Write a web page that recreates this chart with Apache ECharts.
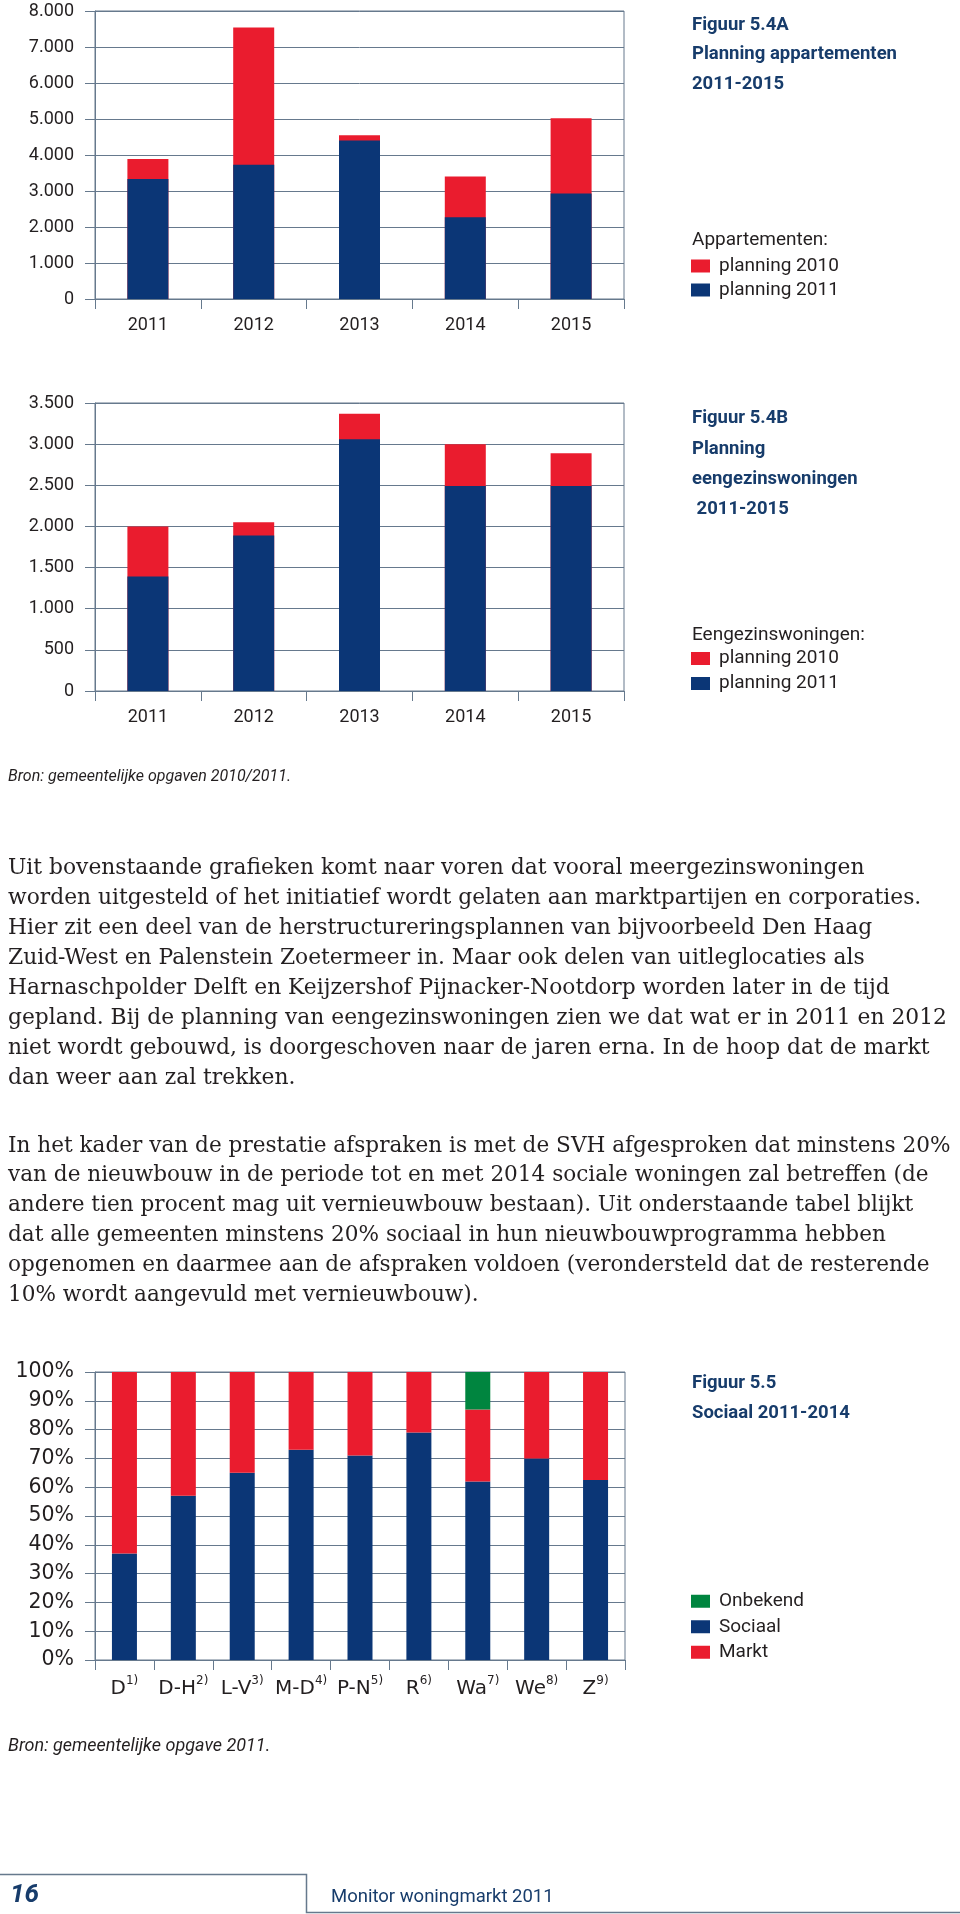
<!DOCTYPE html>
<html><head><meta charset="utf-8">
<script src="https://cdn.jsdelivr.net/npm/echarts@6/dist/echarts.min.js"></script>
<style>html,body{margin:0;padding:0;background:#fff}#c{width:960px;height:1914px}</style>
</head><body><div id="c"></div>
<script>
// ---- data ----
const years = ['2011', '2012', '2013', '2014', '2015'];
const apptPlan2010 = [3890, 7540, 4550, 3400, 5020];
const apptPlan2011 = [3330, 3730, 4400, 2270, 2930];
const egwPlan2010 = [2000, 2050, 3370, 3000, 2890];
const egwPlan2011 = [1390, 1890, 3060, 2490, 2490];
const gemeenten = ['D', 'D-H', 'L-V', 'M-D', 'P-N', 'R', 'Wa', 'We', 'Z'];
const voetnoten = ['1)', '2)', '3)', '4)', '5)', '6)', '7)', '8)', '9)'];
const sociaal = [37, 57, 65, 73, 71, 79, 62, 70, 62.5];
const markt = [63, 43, 35, 27, 29, 21, 25, 30, 37.5];
const onbekend = [0, 0, 0, 0, 0, 0, 13, 0, 0];

const para1 = [
  'Uit bovenstaande grafieken komt naar voren dat vooral meergezinswoningen',
  'worden uitgesteld of het initiatief wordt gelaten aan marktpartijen en corporaties.',
  'Hier zit een deel van de herstructureringsplannen van bijvoorbeeld Den Haag',
  'Zuid-West en Palenstein Zoetermeer in. Maar ook delen van uitleglocaties als',
  'Harnaschpolder Delft en Keijzershof Pijnacker-Nootdorp worden later in de tijd',
  'gepland. Bij de planning van eengezinswoningen zien we dat wat er in 2011 en 2012',
  'niet wordt gebouwd, is doorgeschoven naar de jaren erna. In de hoop dat de markt',
  'dan weer aan zal trekken.'
];
const para2 = [
  'In het kader van de prestatie afspraken is met de SVH afgesproken dat minstens 20%',
  'van de nieuwbouw in de periode tot en met 2014 sociale woningen zal betreffen (de',
  'andere tien procent mag uit vernieuwbouw bestaan). Uit onderstaande tabel blijkt',
  'dat alle gemeenten minstens 20% sociaal in hun nieuwbouwprogramma hebben',
  'opgenomen en daarmee aan de afspraken voldoen (verondersteld dat de resterende',
  '10% wordt aangevuld met vernieuwbouw).'
];

// ---- styles ----
const NAVY = '#0b3676';
const RED = '#ea1c2e';
const GREEN = '#00853f';
const GRIDC = '#66798d';
const TXT = '#231f20';
const TITLEC = '#173c6b';
const SANS = 'Roboto, "Open Sans", sans-serif';
const WIDE = '"DejaVu Sans", sans-serif';
const SERIF = '"DejaVu Serif", serif';

function thousands(v) { return v >= 1000 ? (v / 1000).toFixed(3) : String(v); }

function yAx(gi, max, interval, fmt, fs, fam) {
  return {
    type: 'value', gridIndex: gi, min: 0, max: max, interval: interval,
    axisLine: { show: true, lineStyle: { color: GRIDC, width: 1 } },
    axisTick: { show: true, length: 10, lineStyle: { color: GRIDC } },
    splitLine: { show: true, lineStyle: { color: GRIDC, width: 1 } },
    axisLabel: { margin: 21, fontSize: fs, color: TXT, fontFamily: fam, formatter: fmt }
  };
}
function xAx(gi, data, label) {
  return {
    type: 'category', gridIndex: gi, data: data,
    axisLine: { show: true, lineStyle: { color: GRIDC, width: 1 } },
    axisTick: { show: true, length: 10, lineStyle: { color: GRIDC } },
    axisLabel: label
  };
}
function legendCfg(names, top, lh) {
  return {
    data: names, orient: 'vertical', left: 691, top: top, padding: 0,
    itemWidth: 19, itemHeight: 13, itemGap: 0, icon: 'rect', selectedMode: false,
    formatter: n => n.replace(/^[AB] /, ''),
    textStyle: { fontSize: 19, lineHeight: lh, color: TXT, fontFamily: SANS, padding: [0, 0, 0, 4] }
  };
}
function txt(x, y, text, font, fill, lh) {
  return { type: 'text', x: x, y: y, style: { text: text, font: font, fill: fill, lineHeight: lh, verticalAlign: 'top', align: 'left' } };
}

const chart = echarts.init(document.getElementById('c'), null, { renderer: 'canvas' });
const option = {
  animation: false,
  backgroundColor: '#fff',
  grid: [
    { left: 95, top: 11, width: 529, height: 288, show: true, borderColor: GRIDC, borderWidth: 1, backgroundColor: 'transparent' },
    { left: 95, top: 403, width: 529, height: 288, show: true, borderColor: GRIDC, borderWidth: 1, backgroundColor: 'transparent' },
    { left: 95, top: 1372, width: 530, height: 288, show: true, borderColor: GRIDC, borderWidth: 1, backgroundColor: 'transparent' }
  ],
  xAxis: [
    xAx(0, years, { margin: 17, fontSize: 18, color: TXT, fontFamily: SANS }),
    xAx(1, years, { margin: 17, fontSize: 18, color: TXT, fontFamily: SANS }),
    xAx(2, gemeenten, {
      margin: 15, color: TXT, fontFamily: WIDE, interval: 0,
      formatter: (v, i) => '{m|' + v + '}{s|' + voetnoten[gemeenten.indexOf(v)] + '}',
      rich: {
        m: { fontSize: 20, lineHeight: 24, fontFamily: WIDE, color: TXT, verticalAlign: 'bottom' },
        s: { fontSize: 12, lineHeight: 18, fontFamily: WIDE, color: TXT, verticalAlign: 'top' }
      }
    })
  ],
  yAxis: [
    yAx(0, 8000, 1000, thousands, 18, SANS),
    yAx(1, 3500, 500, thousands, 18, SANS),
    yAx(2, 100, 10, v => v + '%', 20.5, WIDE)
  ],
  legend: [
    legendCfg(['A planning 2010', 'A planning 2011'], 254, 24),
    legendCfg(['B planning 2010', 'B planning 2011'], 646, 25),
    legendCfg(['Onbekend', 'Sociaal', 'Markt'], 1588.5, 25.5)
  ],
  series: [
    { name: 'A planning 2010', type: 'bar', xAxisIndex: 0, yAxisIndex: 0, data: apptPlan2010, barWidth: 41, barGap: '-100%', itemStyle: { color: RED }, z: 2 },
    { name: 'A planning 2011', type: 'bar', xAxisIndex: 0, yAxisIndex: 0, data: apptPlan2011, barWidth: 41, barGap: '-100%', itemStyle: { color: NAVY }, z: 3 },
    { name: 'B planning 2010', type: 'bar', xAxisIndex: 1, yAxisIndex: 1, data: egwPlan2010, barWidth: 41, barGap: '-100%', itemStyle: { color: RED }, z: 2 },
    { name: 'B planning 2011', type: 'bar', xAxisIndex: 1, yAxisIndex: 1, data: egwPlan2011, barWidth: 41, barGap: '-100%', itemStyle: { color: NAVY }, z: 3 },
    { name: 'Sociaal', type: 'bar', stack: 'soc', xAxisIndex: 2, yAxisIndex: 2, data: sociaal, barWidth: 25, itemStyle: { color: NAVY } },
    { name: 'Markt', type: 'bar', stack: 'soc', xAxisIndex: 2, yAxisIndex: 2, data: markt, barWidth: 25, itemStyle: { color: RED } },
    { name: 'Onbekend', type: 'bar', stack: 'soc', xAxisIndex: 2, yAxisIndex: 2, data: onbekend, barWidth: 25, itemStyle: { color: GREEN } }
  ],
  graphic: [
    txt(692, 10.5, 'Figuur 5.4A\nPlanning appartementen\n2011-2015', 'bold 18.5px ' + SANS, TITLEC, 29.5),
    txt(692, 228, 'Appartementen:', '19px ' + SANS, TXT, 24),
    txt(692, 403.5, 'Figuur 5.4B\nPlanning\neengezinswoningen\n 2011-2015', 'bold 18.5px ' + SANS, TITLEC, 30.3),
    txt(692, 622.5, 'Eengezinswoningen:', '19px ' + SANS, TXT, 25),
    txt(692, 1368, 'Figuur 5.5\nSociaal 2011-2014', 'bold 18.5px ' + SANS, TITLEC, 30.5),
    txt(8, 766, 'Bron: gemeentelijke opgaven 2010/2011.', 'italic 16px ' + SANS, TXT, 22),
    txt(8, 853, para1.join('\n'), '21.8px ' + SERIF, TXT, 30),
    txt(8, 1131, para2.join('\n'), '21.6px ' + SERIF, TXT, 29.8),
    txt(8, 1734, 'Bron: gemeentelijke opgave 2011.', 'italic 18px ' + SANS, TXT, 24),
    { type: 'polyline', shape: { points: [[0, 1874.5], [306.5, 1874.5], [306.5, 1912.5], [960, 1912.5]] }, style: { stroke: GRIDC, lineWidth: 1.5, fill: null } },
    txt(10, 1880, '16', 'italic bold 26px ' + SANS, TITLEC, 30),
    txt(331, 1885, 'Monitor woningmarkt 2011', '18.5px ' + SANS, TITLEC, 24)
  ]
};
chart.setOption(option);
</script>
</body></html>
